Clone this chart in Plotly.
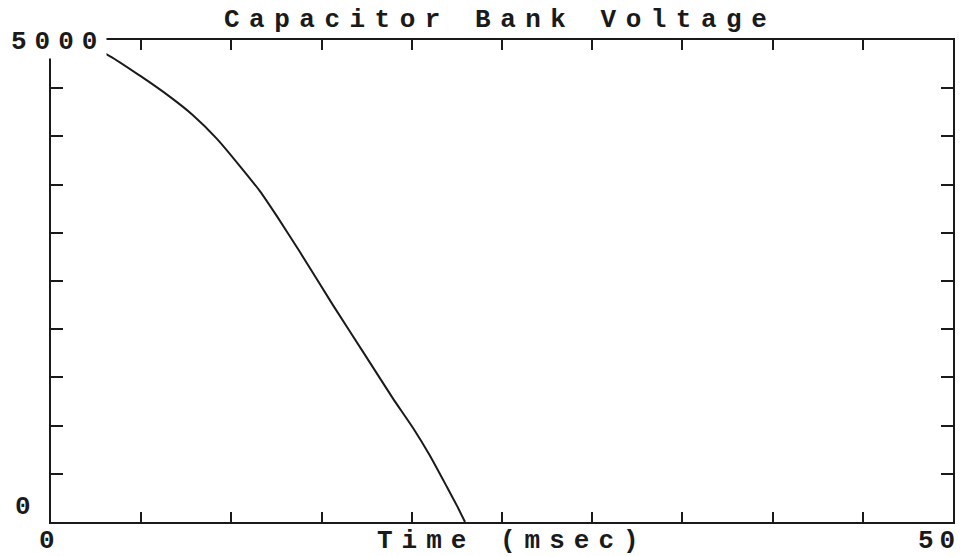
import plotly.graph_objects as go

# Capacitor bank discharge: time (msec) vs voltage (V)
time_ms = [0.0, 1.6, 3.16, 4.93, 6.6, 7.87, 9.2, 10.48, 11.59, 12.53, 13.8,
           15.63, 17.52, 18.96, 20.07, 21.0, 21.95, 22.5, 22.95]
voltage = [5000, 4950, 4844, 4630, 4410, 4220, 3975, 3690, 3430, 3170, 2800,
           2250, 1700, 1280, 975, 690, 363, 170, 0]

title_text = "Capacitor Bank Voltage"
x_title = "Time (msec)"
x_tick_vals = [0, 50]
x_tick_labels = ["0", "50"]
y_tick_vals = [0, 5000]
y_tick_labels = ["0", "5000"]

INK = "#1a1a1a"
FONT = "Liberation Mono"


def spaced(s, px):
    return f'<span style="letter-spacing:{px}px">{s}</span>'


fig = go.Figure()
fig.add_trace(go.Scatter(
    x=time_ms, y=voltage, mode="lines",
    line=dict(color=INK, width=2, shape="spline", smoothing=0.5),
    hoverinfo="skip", showlegend=False,
))

axis_common = dict(
    showgrid=False, zeroline=False, showline=True, linecolor=INK, linewidth=2,
    mirror="ticks", ticks="inside", tickcolor=INK, tickwidth=2,
    showticklabels=False,
)
fig.update_xaxes(range=[0, 50], tick0=0, dtick=5, ticklen=10, **axis_common)
fig.update_yaxes(range=[0, 5000], tick0=0, dtick=500, ticklen=12, **axis_common)

lab_font = dict(family=FONT, size=26, color=INK, weight="bold")
ann = []
# title
ann.append(dict(text=spaced(title_text, 9.5), xref="paper", yref="paper",
                x=0.5, y=1, xanchor="center", yanchor="middle",
                xshift=-2, yshift=20, showarrow=False,
                font=dict(family=FONT, size=26, color=INK, weight="bold")))
# x-axis title
ann.append(dict(text=spaced(x_title, 9), xref="paper", yref="paper",
                x=0.5, y=0, xanchor="center", yanchor="top",
                xshift=10, yshift=-2, showarrow=False, font=lab_font))
# x tick labels
ann.append(dict(text=spaced(x_tick_labels[0], 0), xref="x", yref="paper",
                x=x_tick_vals[0], y=0, xanchor="center", yanchor="top",
                xshift=-4, yshift=-2, showarrow=False, font=lab_font))
ann.append(dict(text=spaced(x_tick_labels[1], 6), xref="x", yref="paper",
                x=x_tick_vals[1], y=0, xanchor="right", yanchor="top",
                xshift=10, yshift=-2, showarrow=False, font=lab_font))
# y tick labels
ann.append(dict(text=spaced(y_tick_labels[0], 0), xref="paper", yref="y",
                x=0, y=y_tick_vals[0], xanchor="right", yanchor="bottom",
                xshift=-18, yshift=-2, showarrow=False, font=lab_font))
ann.append(dict(text=spaced(y_tick_labels[1], 8), xref="paper", yref="y",
                x=0, y=y_tick_vals[1], xanchor="left", yanchor="middle",
                xshift=-42, yshift=-2, showarrow=False, font=lab_font,
                bgcolor="white"))

fig.update_layout(
    width=966, height=556,
    margin=dict(l=51, r=13, t=40, b=34),
    paper_bgcolor="white", plot_bgcolor="white",
    annotations=ann,
)

fig.write_html("out.html")
